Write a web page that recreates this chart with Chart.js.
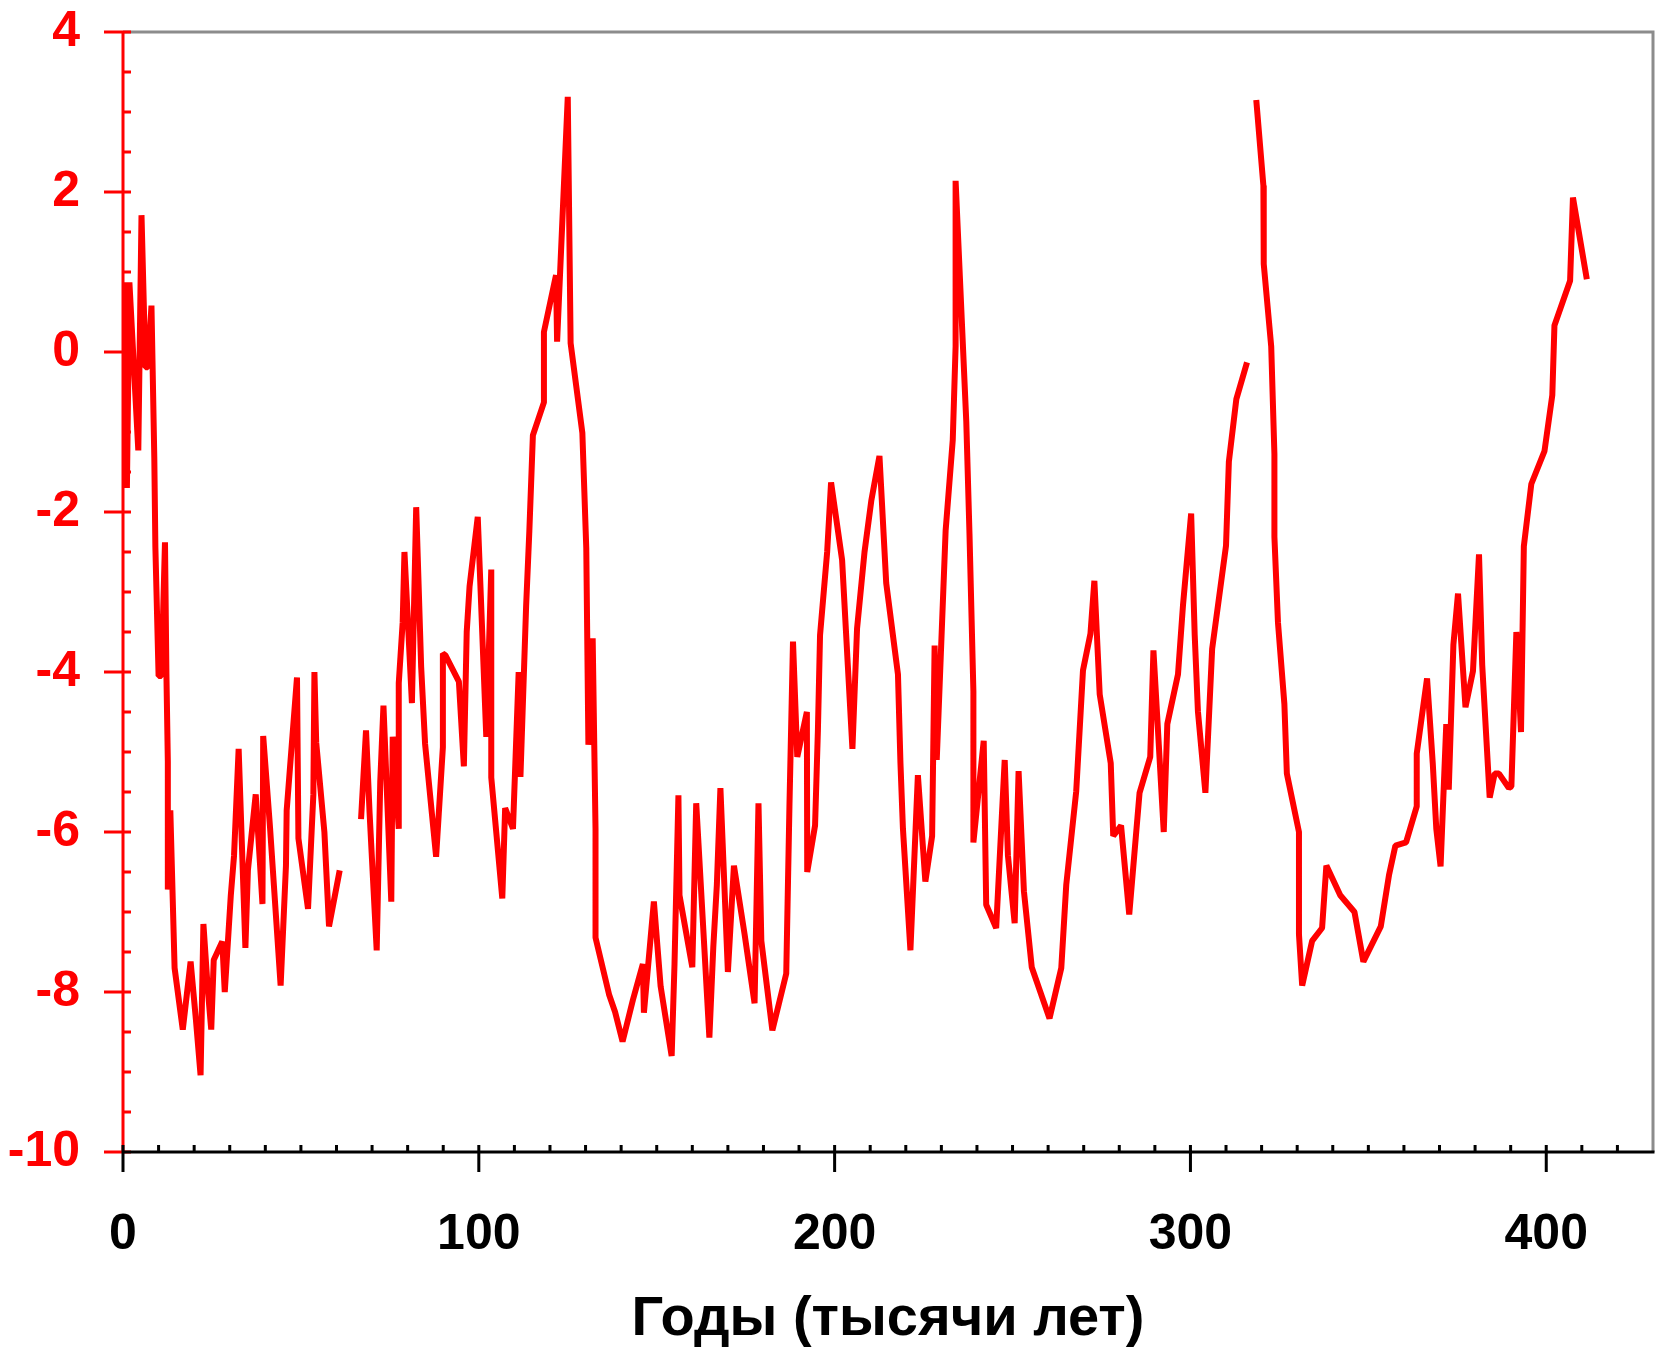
<!DOCTYPE html>
<html>
<head>
<meta charset="utf-8">
<script src="https://cdn.jsdelivr.net/npm/chart.js@4.4.0/dist/chart.umd.min.js"></script>
<style>
  html, body { margin: 0; padding: 0; background: #fff; }
  canvas { display: block; }
</style>
</head>
<body>
<canvas id="vostokChart" width="1656" height="1353"></canvas>
<script>
// Temperature anomaly (°C) against age (thousand years).
// The record has two breaks, so it is kept as three pieces.
const ageSeg1 = [
    0.0, 0.5, 1.1, 1.8, 4.3, 5.2, 6.3, 7.0, 8.0, 8.8,
    9.1, 10.0, 10.8, 11.8, 12.2, 12.6, 12.6, 13.3, 14.5, 16.8,
    19.0, 20.5, 21.8, 22.6, 23.8, 24.8, 25.5, 27.9, 28.6, 30.3,
    31.2, 32.5, 34.4, 35.1, 37.3, 39.2, 39.4, 41.3, 44.3, 45.8,
    46.0, 48.9, 49.3, 52.0, 53.5, 53.8, 54.3, 56.6, 57.9, 60.9
];
const tempSeg1 = [
    -0.3, 0.87, -1.7, 0.87, -1.23, 1.71, -0.19, -0.19, 0.58, -1.33,
    -2.44, -4.05, -4.05, -2.38, -4.02, -5.12, -6.72, -5.73, -7.7, -8.47,
    -7.62, -8.35, -9.04, -7.15, -7.95, -8.47, -7.6, -7.37, -8.0, -6.79,
    -6.3, -4.96, -7.45, -6.48, -5.53, -6.9, -4.8, -5.93, -7.92, -6.42,
    -5.73, -4.07, -6.08, -6.96, -5.53, -4.0, -4.88, -6.0, -7.18, -6.48
];

const ageSeg2 = [
    66.9, 68.3, 69.3, 71.3, 72.3, 73.2, 75.4, 75.8, 77.5, 77.5,
    78.6, 79.1, 81.2, 82.4, 83.8, 84.9, 88.0, 89.9, 89.9, 90.6,
    94.4, 95.8, 96.6, 97.4, 99.7, 102.1, 103.5, 103.5, 106.6, 107.4,
    109.6, 111.2, 111.7, 113.3, 114.2, 115.2, 118.3, 118.3, 121.7, 122.0,
    125.0, 125.8, 129.1, 130.2, 130.8, 132.0, 132.8, 132.8, 136.6, 138.3,
    140.4, 143.3, 146.1, 146.4, 149.2, 151.1, 154.2, 155.0, 156.1, 156.4,
    160.0, 161.1, 164.8, 165.9, 166.9, 167.9, 170.0, 171.7, 174.7, 177.5,
    178.6, 179.4, 182.5, 186.4, 187.3, 188.3, 189.5, 192.2, 192.3, 194.5,
    195.3, 195.9, 197.9, 199.0, 202.1, 203.7, 205.0, 206.3, 208.4, 210.3,
    212.6, 214.5, 217.8, 218.5, 219.2, 221.3, 223.4, 225.5, 227.4, 228.1,
    228.7, 231.2, 233.2, 234.0, 234.0, 237.0, 237.9, 239.0, 239.0, 241.9,
    242.6, 245.4, 247.8, 248.7, 250.6, 251.7, 253.2, 255.4, 260.4, 263.7,
    265.1, 267.9, 269.8, 271.9, 273.0, 274.5, 277.6, 278.3, 280.5, 282.8,
    285.7, 288.7, 289.6, 292.5, 293.5, 296.5, 297.9, 300.2, 301.2, 302.1,
    304.2, 306.1, 310.0, 310.8, 312.9, 315.9
];
const tempSeg2 = [
    -5.84, -4.73, -5.76, -7.48, -5.37, -4.42, -6.87, -4.81, -5.96, -4.14,
    -3.38, -2.5, -4.39, -1.94, -3.94, -4.9, -6.31, -4.94, -3.77, -3.79,
    -4.12, -5.18, -3.5, -2.93, -2.06, -4.81, -2.72, -5.32, -6.83, -5.7,
    -5.96, -4.0, -5.31, -3.17, -2.24, -1.04, -0.63, 0.25, 0.96, 0.13,
    3.19, 0.11, -1.01, -2.45, -4.91, -3.58, -5.96, -7.32, -8.03, -8.25,
    -8.62, -8.1, -7.65, -8.26, -6.87, -7.93, -8.8, -7.65, -5.54, -6.79,
    -7.69, -5.64, -8.57, -7.44, -6.66, -5.45, -7.75, -6.42, -7.28, -8.14,
    -5.64, -7.36, -8.48, -7.77, -5.68, -3.62, -5.06, -4.5, -6.5, -5.92,
    -4.73, -3.54, -2.5, -1.63, -2.6, -3.91, -4.96, -3.46, -2.5, -1.86,
    -1.3, -2.89, -4.03, -5.14, -5.96, -7.48, -5.29, -6.62, -6.05, -3.67,
    -5.1, -2.23, -1.1, 0.07, 2.14, -0.87, -2.27, -4.24, -6.13, -4.86,
    -6.91, -7.2, -5.1, -6.29, -7.14, -5.24, -6.74, -7.69, -8.33, -7.7,
    -6.66, -5.49, -3.98, -3.52, -2.86, -4.28, -5.14, -6.05, -5.92, -7.03,
    -5.51, -5.06, -3.73, -6.0, -4.65, -4.03, -3.17, -2.02, -3.54, -4.49,
    -5.51, -3.71, -2.42, -1.37, -0.59, -0.13
];

const ageSeg3 = [
    318.5, 320.5, 320.6, 322.7, 323.6, 323.6, 324.6, 326.4, 327.1, 330.5,
    330.5, 331.4, 334.2, 337.0, 338.2, 342.1, 346.1, 348.6, 353.5, 355.8,
    357.6, 360.6, 363.6, 363.6, 366.5, 368.1, 369.1, 370.3, 371.9, 372.6,
    373.9, 375.2, 377.3, 379.4, 381.1, 382.0, 384.1, 385.5, 386.7, 389.5,
    390.2, 391.6, 392.9, 393.7, 395.8, 399.5, 401.7, 402.3, 406.7, 407.5,
    411.4
];
const tempSeg3 = [
    3.15, 2.08, 1.1, 0.07, -1.28, -2.31, -3.38, -4.4, -5.27, -6.0,
    -7.28, -7.92, -7.36, -7.2, -6.42, -6.79, -7.0, -7.62, -7.18, -6.54,
    -6.17, -6.13, -5.68, -5.02, -4.08, -5.14, -5.96, -6.43, -4.65, -5.47,
    -3.66, -3.02, -4.44, -3.99, -2.53, -3.91, -5.57, -5.27, -5.27, -5.45,
    -5.43, -3.5, -4.75, -2.43, -1.65, -1.24, -0.54, 0.33, 0.89, 1.93,
    0.91
];

const xTickValues = [0, 100, 200, 300, 400];
const yTickValues = [-10, -8, -6, -4, -2, 0, 2, 4];
const xTitle = 'Годы (тысячи лет)';

const RED = '#ff0000';

Chart.defaults.font.family = '"Liberation Sans", Arial, sans-serif';

function toPoints(ages, temps) {
    return ages.map((a, i) => ({ x: a, y: temps[i] }));
}

function lineSet(ages, temps) {
    return {
        data: toPoints(ages, temps),
        borderColor: RED,
        borderWidth: 6,
        borderJoinStyle: 'bevel',
        pointRadius: 0,
        tension: 0,
        fill: false
    };
}

// axis lines, inner/outer tick marks and the grey frame
const axisFrame = {
    id: 'axisFrame',
    beforeDatasetsDraw(chart) {
        const { ctx, chartArea: a, scales: { x, y } } = chart;
        ctx.save();
        ctx.lineWidth = 3;

        ctx.strokeStyle = '#8c8c8c';
        ctx.beginPath();
        ctx.moveTo(a.left, a.top);
        ctx.lineTo(a.right, a.top);
        ctx.lineTo(a.right, a.bottom);
        ctx.stroke();

        ctx.strokeStyle = RED;
        ctx.beginPath();
        ctx.moveTo(a.left, a.top - 1.5);
        ctx.lineTo(a.left, a.bottom);
        for (let v = y.min; v <= y.max; v += 0.5) {
            const py = y.getPixelForValue(v);
            ctx.moveTo(v % 2 === 0 ? a.left - 19 : a.left, py);
            ctx.lineTo(a.left + 8, py);
        }
        ctx.stroke();

        ctx.strokeStyle = '#000';
        ctx.beginPath();
        ctx.moveTo(a.left - 1.5, a.bottom);
        ctx.lineTo(a.right + 1.5, a.bottom);
        for (let v = x.min; v < x.max; v += 10) {
            const px = x.getPixelForValue(v);
            ctx.moveTo(px, a.bottom - 7);
            ctx.lineTo(px, v % 100 === 0 ? a.bottom + 20 : a.bottom);
        }
        ctx.stroke();
        ctx.restore();
    }
};

new Chart(document.getElementById('vostokChart'), {
    type: 'line',
    data: {
        datasets: [
            lineSet(ageSeg1, tempSeg1),
            lineSet(ageSeg2, tempSeg2),
            lineSet(ageSeg3, tempSeg3)
        ]
    },
    options: {
        responsive: false,
        animation: false,
        devicePixelRatio: 1,
        layout: { padding: { top: 32, right: 3, bottom: 0, left: 0 } },
        plugins: {
            legend: { display: false },
            tooltip: { enabled: false }
        },
        scales: {
            x: {
                type: 'linear',
                min: 0,
                max: 430,
                afterBuildTicks: s => { s.ticks = xTickValues.map(v => ({ value: v })); },
                afterFit: s => { s.height = 201; s.paddingLeft = 0; s.paddingRight = 0; },
                grid: { display: false, drawTicks: false },
                border: { display: false },
                ticks: {
                    color: '#000',
                    font: { size: 50, weight: 'bold' },
                    padding: 53,
                    maxRotation: 0,
                    autoSkip: false
                },
                title: {
                    display: true,
                    text: xTitle,
                    color: '#000',
                    font: { size: 56, weight: 'bold' },
                    padding: { top: 0, bottom: 0 }
                }
            },
            y: {
                type: 'linear',
                min: -10,
                max: 4,
                afterBuildTicks: s => { s.ticks = yTickValues.map(v => ({ value: v })); },
                afterFit: s => { s.width = 123; s.paddingTop = 0; s.paddingBottom = 0; },
                grid: { display: false, drawTicks: false },
                border: { display: false },
                ticks: {
                    color: RED,
                    font: { size: 50, weight: 'bold' },
                    padding: 43
                }
            }
        }
    },
    plugins: [axisFrame]
});
</script>
</body>
</html>
